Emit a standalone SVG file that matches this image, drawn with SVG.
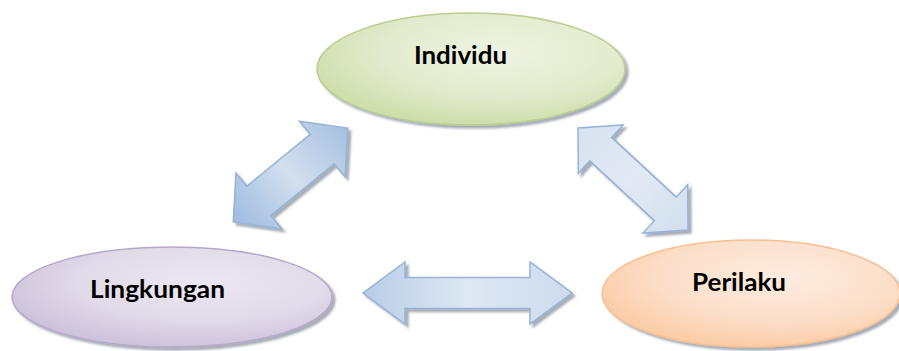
<svg xmlns="http://www.w3.org/2000/svg" width="899" height="351" viewBox="0 0 899 351">
<style>
.lbl{font-family:Lato,"Liberation Sans",sans-serif;font-weight:bold;font-size:25px;fill:#000}
.arr{stroke:#95b3d7;stroke-width:1.5;stroke-linejoin:miter}
</style>
<defs>
<filter id="sh" x="-10%" y="-10%" width="130%" height="130%">
<feDropShadow dx="3" dy="3" stdDeviation="1.2" flood-color="#3a4a60" flood-opacity="0.45"/>
</filter>
<radialGradient id="gGreen" cx="0.6" cy="0.35" r="0.65">
<stop offset="0" stop-color="#eef3e2"/>
<stop offset="0.6" stop-color="#e2ebcd"/>
<stop offset="1" stop-color="#cfdeac"/>
</radialGradient>
<radialGradient id="gPurple" cx="0.6" cy="0.35" r="0.65">
<stop offset="0" stop-color="#ece8f1"/>
<stop offset="0.6" stop-color="#e1dae9"/>
<stop offset="1" stop-color="#cec3dc"/>
</radialGradient>
<radialGradient id="gOrange" cx="0.6" cy="0.35" r="0.65">
<stop offset="0" stop-color="#fdece0"/>
<stop offset="0.6" stop-color="#fcdfca"/>
<stop offset="1" stop-color="#fbcda8"/>
</radialGradient>
<linearGradient id="aDark" x1="0" y1="0" x2="1" y2="0">
<stop offset="0" stop-color="#9dbbe0"/>
<stop offset="0.5" stop-color="#d3dfee"/>
<stop offset="1" stop-color="#a6c0e0"/>
</linearGradient>
<linearGradient id="aLight" x1="0" y1="0" x2="1" y2="0">
<stop offset="0" stop-color="#d7e2f0"/>
<stop offset="0.5" stop-color="#e2eaf4"/>
<stop offset="1" stop-color="#d3dfee"/>
</linearGradient>
<linearGradient id="aMid" x1="0" y1="0" x2="1" y2="0">
<stop offset="0" stop-color="#b8cce6"/>
<stop offset="0.5" stop-color="#dfe8f3"/>
<stop offset="1" stop-color="#cddbed"/>
</linearGradient>
</defs>

<g id="connectors">
<g filter="url(#sh)">
<polygon class="arr" fill="url(#aDark)" transform="translate(290.5,175) rotate(-39.3)" points="74,0 41,36 41,19 -41,19 -41,36 -74,0 -41,-36 -41,-19 41,-19 41,-36"/>
</g>
<g filter="url(#sh)">
<polygon class="arr" fill="url(#aLight)" transform="translate(633,179) rotate(42.8)" points="75,0 44,33 44,16 -44,16 -44,33 -75,0 -44,-33 -44,-16 44,-16 44,-33"/>
</g>
<g filter="url(#sh)">
<polygon class="arr" fill="url(#aMid)" transform="translate(467.5,293)" points="104.5,0 62.5,31 62.5,15.5 -62.5,15.5 -62.5,31 -104.5,0 -62.5,-31 -62.5,-15.5 62.5,-15.5 62.5,-31"/>
</g>
</g>

<g id="individu">
<ellipse cx="471" cy="69" rx="154" ry="56" fill="url(#gGreen)" stroke="#b9cf8f" stroke-width="1.5" filter="url(#sh)"/>
<text class="lbl" x="414" y="63.5" textLength="93" lengthAdjust="spacingAndGlyphs">Individu</text>
</g>

<g id="lingkungan">
<ellipse cx="172" cy="297" rx="160" ry="50" fill="url(#gPurple)" stroke="#b7a8cb" stroke-width="1.5" filter="url(#sh)"/>
<text class="lbl" x="90" y="297.5" textLength="135" lengthAdjust="spacingAndGlyphs">Lingkungan</text>
</g>

<g id="perilaku">
<ellipse cx="751" cy="293.5" rx="149" ry="53.5" fill="url(#gOrange)" stroke="#f8bf90" stroke-width="1.5" filter="url(#sh)"/>
<text class="lbl" x="692" y="291" textLength="94" lengthAdjust="spacingAndGlyphs">Perilaku</text>
</g>
</svg>
